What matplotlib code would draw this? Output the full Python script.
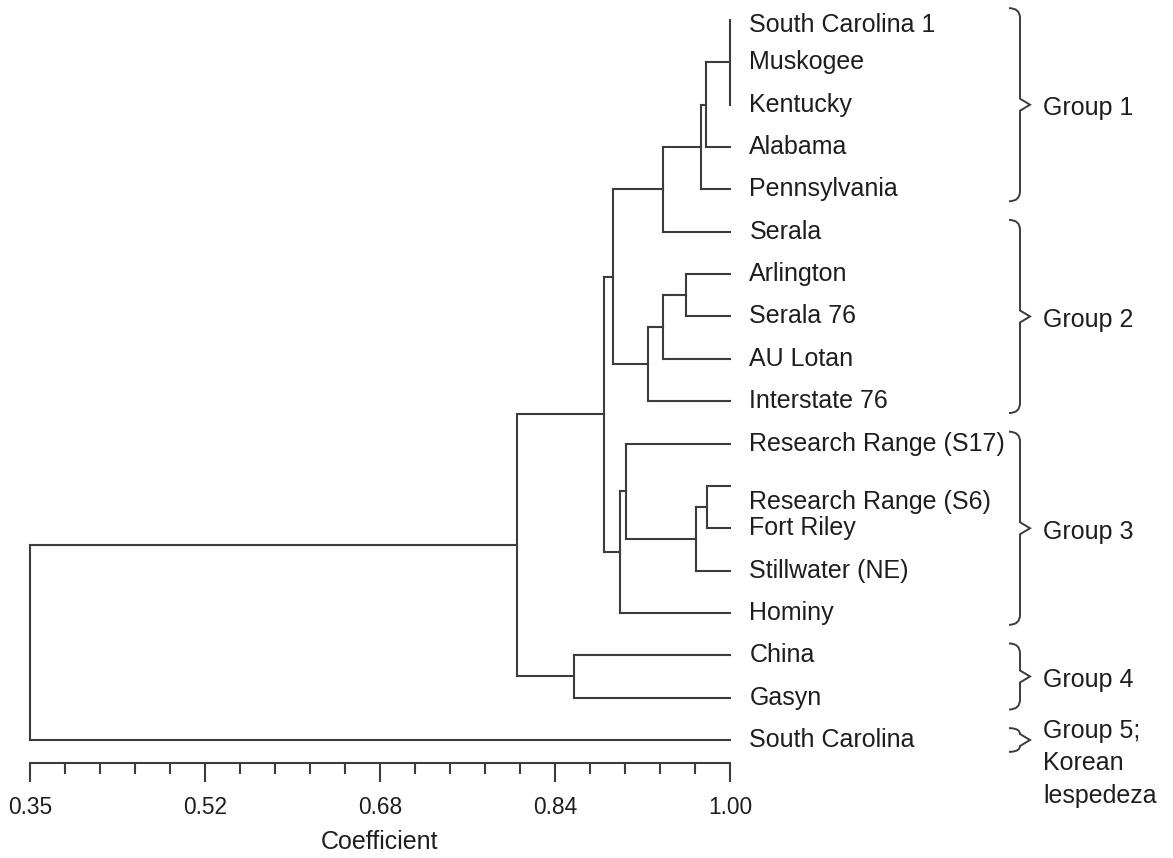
import matplotlib
matplotlib.use('Agg')
import matplotlib.pyplot as plt
import matplotlib.transforms as mtransforms
from matplotlib import font_manager
from matplotlib.path import Path
from matplotlib.patches import PathPatch

# dendrogram data (similarity coefficient)
leaves = ['South Carolina 1', 'Muskogee', 'Kentucky', 'Alabama', 'Pennsylvania',
          'Serala', 'Arlington', 'Serala 76', 'AU Lotan', 'Interstate 76',
          'Research Range (S17)', 'Research Range (S6)', 'Fort Riley',
          'Stillwater (NE)', 'Hominy', 'China', 'Gasyn', 'South Carolina']
# nodes 18.. are built in this order from leaves (0..17) and earlier nodes
merge_children = [[0, 1, 2], [18, 3], [19, 4], [20, 5], [6, 7], [22, 8], [23, 9],
                  [21, 24], [11, 12], [26, 13], [10, 27], [28, 14], [25, 29],
                  [15, 16], [30, 31], [32, 17]]
merge_coef = [1.00, 0.978, 0.973, 0.938, 0.959, 0.938, 0.924, 0.891, 0.979,
              0.968, 0.903, 0.898, 0.883, 0.855, 0.802, 0.35]

group_names = ['Group 1', 'Group 2', 'Group 3', 'Group 4', 'Group 5;\nKorean\nlespedeza']
group_first = [0, 5, 10, 15, 17]
group_last = [4, 9, 14, 16, 17]

tick_values = [0.35, 0.5125, 0.675, 0.8375, 1.00]
tick_labels = ['0.35', '0.52', '0.68', '0.84', '1.00']
minor_step = 0.0325

# font: narrow sans if we have it
names = {f.name for f in font_manager.fontManager.ttflist}
if 'Liberation Sans Narrow' in names:
    fam, k = 'Liberation Sans Narrow', 1.0
else:
    fam, k = 'Liberation Sans', 0.82
plt.rcParams['font.family'] = [fam, 'DejaVu Sans']
fs = 22 * k
line_c = '#3c3c3c'
text_c = '#1e1e1e'
lw = 1.5

W, H = 1173, 858
fig = plt.figure(figsize=(W / 100, H / 100), dpi=100)
ax = fig.add_axes([30 / W, (H - 763) / H, 700 / W, 763 / H])
step = (740 - 20) / 17  # pixels per leaf
ax.set_xlim(0.35, 1.0)
ax.set_ylim(17 + 23 / step, -20 / step)

# compute node positions and draw the tree
node_x = [1.0] * len(leaves)
node_y = [float(i) for i in range(len(leaves))]
for kids, c in zip(merge_children, merge_coef):
    ys = [node_y[j] for j in kids]
    ax.plot([c, c], [min(ys), max(ys)], color=line_c, lw=lw, clip_on=False,
            solid_capstyle='projecting')
    for j in kids:
        ax.plot([node_x[j], c], [node_y[j], node_y[j]], color=line_c, lw=lw,
                clip_on=False, solid_capstyle='projecting')
    node_x.append(c)
    node_y.append((min(ys) + max(ys)) / 2)

# leaf labels
nudge = {'Research Range (S6)': 0.38, 'South Carolina 1': 0.12}
for i, name in enumerate(leaves):
    ax.annotate(name, (1.0, i + nudge.get(name, 0)), xytext=(14, 0),
                textcoords='offset points', va='center', ha='left',
                fontsize=fs, color=text_c, annotation_clip=False)

# group braces
tr = mtransforms.blended_transform_factory(ax.transAxes, ax.transData)
bx = 990 / 700
for name, a, b in zip(group_names, group_first, group_last):
    y0, y1 = a - 0.28, b + 0.28
    ym = (y0 + y1) / 2
    tx, ty = 10 / 700, 6 / step
    hx = 11 / 700
    hy = min(10 / step, (y1 - y0) / 2 - ty)
    verts = [(bx - hx, y0), (bx, y0), (bx, y0 + hy),
             (bx, ym - ty), (bx + tx, ym), (bx, ym + ty),
             (bx, y1 - hy), (bx, y1), (bx - hx, y1)]
    codes = [Path.MOVETO, Path.CURVE3, Path.CURVE3, Path.LINETO, Path.LINETO,
             Path.LINETO, Path.LINETO, Path.CURVE3, Path.CURVE3]
    ax.add_patch(PathPatch(Path(verts, codes), transform=tr, fill=False,
                           edgecolor=line_c, lw=1.4, clip_on=False))
    if '\n' in name:
        ax.text(bx + 23 / 700, ym - 0.5, name, transform=tr, va='top', ha='left',
                fontsize=fs, color=text_c, linespacing=1.45)
    else:
        ax.text(bx + 23 / 700, ym + 0.08, name, transform=tr, va='center', ha='left',
                fontsize=fs, color=text_c)

# coefficient scale
for s in ['top', 'right', 'left']:
    ax.spines[s].set_visible(False)
ax.spines['bottom'].set_color(line_c)
ax.spines['bottom'].set_linewidth(lw)
ax.set_yticks([])
ax.set_xticks(tick_values)
ax.set_xticklabels(tick_labels)
minors = [0.35 + minor_step * i for i in range(21)]
ax.set_xticks(minors, minor=True)
ax.tick_params(axis='x', which='major', direction='out', length=14, width=lw,
               color=line_c, pad=10, labelsize=20 * k, labelcolor=text_c)
ax.tick_params(axis='x', which='minor', direction='out', length=8, width=lw,
               color=line_c)
ax.set_xlabel('Coefficient', fontsize=fs, color=text_c, labelpad=8)

fig.savefig('out.png', dpi=100, facecolor='white')
